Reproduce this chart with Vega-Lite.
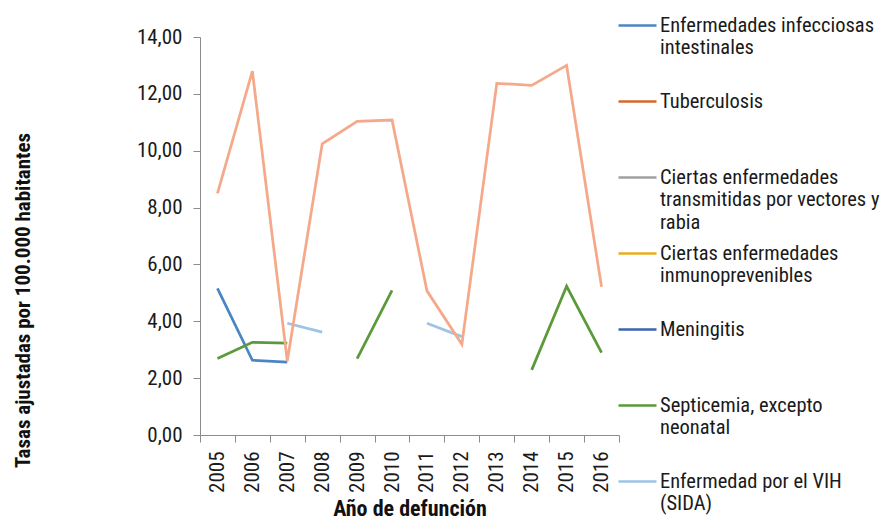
{
"$schema":"https://vega.github.io/schema/vega-lite/v6.json",
"autosize":{"type":"none"},
"padding":{"left":200,"top":37,"right":263,"bottom":86},
"width":419,
"height":398,
"background":"white",
"config":{"view":{"stroke":null},"font":"Roboto Condensed"},
"datasets":{
"main":[
{"year":"2005","serie":"Enfermedades infecciosas intestinales","valor":5.16},
{"year":"2006","serie":"Enfermedades infecciosas intestinales","valor":2.63},
{"year":"2007","serie":"Enfermedades infecciosas intestinales","valor":2.56},
{"year":"2005","serie":"Tuberculosis","valor":null},
{"year":"2005","serie":"Ciertas enfermedades transmitidas por vectores y rabia","valor":null},
{"year":"2005","serie":"Ciertas enfermedades inmunoprevenibles","valor":null},
{"year":"2005","serie":"Meningitis","valor":null},
{"year":"2005","serie":"Septicemia, excepto neonatal","valor":2.69},
{"year":"2006","serie":"Septicemia, excepto neonatal","valor":3.26},
{"year":"2007","serie":"Septicemia, excepto neonatal","valor":3.23},
{"year":"2008","serie":"Septicemia, excepto neonatal","valor":null},
{"year":"2009","serie":"Septicemia, excepto neonatal","valor":2.69},
{"year":"2010","serie":"Septicemia, excepto neonatal","valor":5.09},
{"year":"2011","serie":"Septicemia, excepto neonatal","valor":null},
{"year":"2012","serie":"Septicemia, excepto neonatal","valor":null},
{"year":"2013","serie":"Septicemia, excepto neonatal","valor":null},
{"year":"2014","serie":"Septicemia, excepto neonatal","valor":2.29},
{"year":"2015","serie":"Septicemia, excepto neonatal","valor":5.23},
{"year":"2016","serie":"Septicemia, excepto neonatal","valor":2.90},
{"year":"2007","serie":"Enfermedad por el VIH (SIDA)","valor":3.93},
{"year":"2008","serie":"Enfermedad por el VIH (SIDA)","valor":3.62},
{"year":"2009","serie":"Enfermedad por el VIH (SIDA)","valor":null},
{"year":"2010","serie":"Enfermedad por el VIH (SIDA)","valor":null},
{"year":"2011","serie":"Enfermedad por el VIH (SIDA)","valor":3.93},
{"year":"2012","serie":"Enfermedad por el VIH (SIDA)","valor":3.46}
],
"extra":[
{"year":"2005","serie":"Serie 8","valor":8.50},
{"year":"2006","serie":"Serie 8","valor":12.80},
{"year":"2007","serie":"Serie 8","valor":2.60},
{"year":"2008","serie":"Serie 8","valor":10.24},
{"year":"2009","serie":"Serie 8","valor":11.03},
{"year":"2010","serie":"Serie 8","valor":11.08},
{"year":"2011","serie":"Serie 8","valor":5.07},
{"year":"2012","serie":"Serie 8","valor":3.19},
{"year":"2013","serie":"Serie 8","valor":12.37},
{"year":"2014","serie":"Serie 8","valor":12.30},
{"year":"2015","serie":"Serie 8","valor":13.00},
{"year":"2016","serie":"Serie 8","valor":5.21}
]
},
"encoding":{
"x":{"field":"year","type":"ordinal","bandPosition":0.5,
 "scale":{"type":"band","paddingInner":0,"paddingOuter":0,"domain":["2005","2006","2007","2008","2009","2010","2011","2012","2013","2014","2015","2016"]},
 "axis":{"title":"Año de defunción","tickBand":"extent","labelAngle":-90,"labelAlign":"right","labelBaseline":"middle","labelPadding":9,"labelFontSize":21,"labelFont":"Roboto Condensed","labelColor":"#1a1a1a","tickSize":7,"tickColor":"#8c8c8c","domainColor":"#8c8c8c","domainWidth":1,"titleFont":"Roboto Condensed","titleFontSize":22,"titleFontWeight":"bold","titleColor":"#111","titlePadding":6}},
"y":{"field":"valor","type":"quantitative",
 "scale":{"domain":[0,14]},
 "axis":{"title":"Tasas ajustadas por 100.000 habitantes","values":[0,2,4,6,8,10,12,14],"grid":false,"labelExpr":"replace(format(datum.value,'.2f'),'.',',')","labelFontSize":21,"labelFont":"Roboto Condensed","labelColor":"#1a1a1a","labelPadding":11,"tickSize":7,"tickColor":"#8c8c8c","domainColor":"#8c8c8c","titleFont":"Roboto Condensed","titleFontSize":21,"titleFontWeight":"bold","titleColor":"#111","titleX":-177,"titleY":263,"titleAlign":"center","titleBaseline":"middle","titleAngle":-90}}
},
"layer":[
{"data":{"name":"main"},
 "mark":{"type":"line","strokeWidth":2.75},
 "encoding":{
  "color":{"field":"serie","type":"nominal","sort":null,
   "scale":{"domain":["Enfermedades infecciosas intestinales","Tuberculosis","Ciertas enfermedades transmitidas por vectores y rabia","Ciertas enfermedades inmunoprevenibles","Meningitis","Septicemia, excepto neonatal","Enfermedad por el VIH (SIDA)"],
    "range":["#4A86C5","#D4692A","#A0A0A0","#E8AE1E","#3C63B0","#5B9A3A","#9DC3E6"]},
   "legend":{"title":null,"orient":"none","legendX":417,"legendY":-32,"padding":0,"symbolType":"stroke","symbolSize":1444,"symbolStrokeWidth":2.5,"labelOffset":2,"labelFont":"Roboto Condensed","labelFontSize":20.5,"labelColor":"#1a1a1a","labelBaseline":"middle","labelLimit":400,"labelLineHeight":26,"rowPadding":-1.6,
    "labelExpr":"datum.label == 'Enfermedades infecciosas intestinales' ? ['Enfermedades infecciosas','intestinales',''] : datum.label == 'Tuberculosis' ? ['Tuberculosis','',''] : datum.label == 'Ciertas enfermedades transmitidas por vectores y rabia' ? ['Ciertas enfermedades','transmitidas por vectores y','rabia'] : datum.label == 'Ciertas enfermedades inmunoprevenibles' ? ['Ciertas enfermedades','inmunoprevenibles',''] : datum.label == 'Meningitis' ? ['Meningitis','',''] : datum.label == 'Septicemia, excepto neonatal' ? ['Septicemia, excepto','neonatal',''] : ['Enfermedad por el VIH','(SIDA)','']"}}
 }},
{"data":{"name":"extra"},
 "mark":{"type":"line","strokeWidth":2.75,"color":"#F4A98A"},
 "encoding":{}}
]
}
